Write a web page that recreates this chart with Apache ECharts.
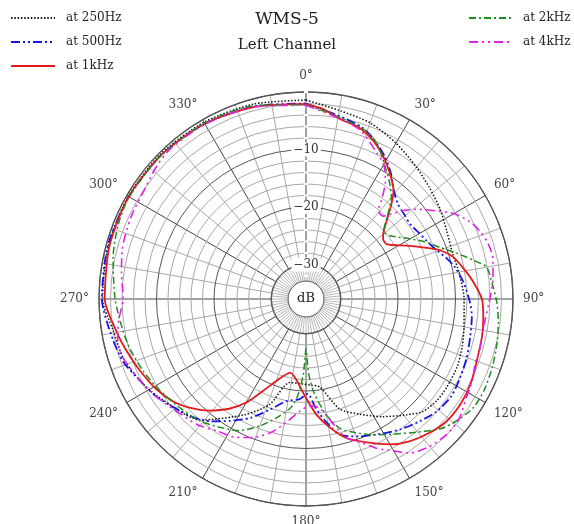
<!DOCTYPE html>
<html><head><meta charset="utf-8">
<script src="https://cdn.jsdelivr.net/npm/echarts/dist/echarts.min.js"></script>
<style>html,body{margin:0;padding:0;background:#fff}#c{width:574px;height:524px}</style>
</head><body><div id="c"></div>
<script>
// ---- data (angle in degrees clockwise from front, level in dB) ----
const names = ['at 250Hz', 'at 500Hz', 'at 1kHz', 'at 2kHz', 'at 4kHz'];
const radiusTickLabels = [-10, -20, -30];

const ang250 = [0,10,20,30,40,48,56,64,73,80,90,100,107,114,122,128,134,139,147,155,163,171,177,182,191,199,208,221,237,244,252,261,270,285,300,315,330,345,360];
const db250  = [-1.4,-2.7,-3.4,-4.7,-6.1,-7.1,-7.9,-8.8,-9.3,-9.0,-8.5,-8.1,-7.6,-7.2,-7.1,-7.2,-7.8,-9.3,-11.6,-13.9,-16.0,-20.5,-21.0,-21.2,-21.2,-16.6,-13.2,-8.1,-5.1,-3.8,-2.6,-2.0,-0.6,-0.4,-0.3,-0.3,-0.5,-0.9,-1.4];

const ang500 = [0,10,18,23,29,34,38,44,50,54,60,68,74,78,84,91,96,103,110,117,124,131,137,144,151,159,166,171,175,179,184,191,198,205,212,218,224,230,237,244,251,258,270,285,300,315,330,345,360];
const db500  = [-2.0,-3.6,-4.6,-5.8,-7.7,-9.6,-11.4,-13.0,-13.5,-13.7,-13.2,-12.1,-10.5,-9.5,-8.45,-7.5,-7.0,-6.7,-6.25,-5.9,-5.6,-6.05,-6.95,-8.0,-9.2,-10.4,-11.7,-14.5,-17.0,-19.5,-18.5,-17.9,-15.8,-13.2,-11.0,-9.0,-7.5,-6.4,-4.9,-3.8,-2.4,-1.7,-0.5,-0.3,-0.4,-0.5,-0.8,-1.3,-2.0];

const ang1k = [0,5,11,17,23,29,34,39,42,45,49,52,56,62,67,70,74,79,84,90,96,102,110,117,124,131,137,144,150,157,164,170,175,180,187,192,200,205,210,215,221,227,232,239,247,254,260,270,285,300,315,330,345,360];
const db1k  = [-2.1,-2.8,-4.2,-4.75,-6.1,-8.0,-9.85,-11.8,-13.8,-15.9,-18.1,-19.0,-19.0,-16.2,-13.2,-11.2,-9.4,-8.1,-6.8,-5.4,-5.0,-4.7,-4.4,-3.8,-3.5,-3.6,-4.3,-5.4,-6.8,-8.9,-10.9,-13.5,-15.9,-18.8,-21.9,-22.9,-20.8,-18.4,-15.2,-12.7,-10.3,-8.3,-6.9,-5.6,-4.5,-3.5,-2.6,-1.0,-0.6,-0.4,-0.5,-0.8,-1.4,-2.1];

const ang2k = [0,10,20,25,30,35,40,44,49,53,59,64,69,73,77,80,85,91,97,103,110,117,123,129,134,140,146,154,160,165,170,175,178,180,182,185,188,194,200,207,214,221,229,238,246,254,260,270,282,292,300,315,330,345,360];
const db2k  = [-2.2,-3.8,-5.0,-6.5,-8.8,-10.8,-12.9,-15.5,-18.1,-17.7,-15.5,-13.2,-11.0,-8.65,-6.1,-4.1,-3.55,-2.8,-2.3,-1.9,-1.5,-1.2,-1.3,-2.3,-3.5,-5.8,-7.7,-9.7,-11.3,-12.6,-15.5,-19.5,-23.0,-27.3,-23.0,-19.0,-16.9,-14.7,-12.5,-10.3,-9.1,-7.9,-7.05,-6.0,-5.05,-4.2,-3.7,-2.8,-1.7,-0.85,-0.5,-0.5,-0.7,-1.2,-2.2];

const ang4k = [0,10,18,25,30,34,37,39.5,43,47,51,56,60,65,69,73,78,84,92,99,106,111,116,122,128,134,140,146,150,155,159,164,173,178,183,190,195,201,207,214,221,229,237,244,252,258,264,270,278,285,295,305,312,318,330,345,360];
const db4k  = [-2.3,-4.0,-5.2,-7.5,-9.0,-11.3,-14.0,-16.2,-16.3,-13.6,-11.2,-8.6,-6.3,-4.4,-3.5,-2.9,-2.75,-3.3,-4.25,-4.75,-4.55,-4.5,-3.8,-3.2,-2.2,-2.05,-2.55,-3.7,-5.5,-7.4,-9.3,-10.9,-16.9,-17.4,-16.5,-13.9,-11.9,-10.2,-9.0,-8.3,-7.1,-6.2,-4.9,-3.8,-2.6,-2.5,-3.3,-4.2,-3.6,-2.9,-2.4,-2.0,-1.2,-0.8,-0.9,-1.4,-2.3];

// ---- build ----
function pairs(a, d) { return a.map((v, i) => [d[i], v]); }
const FONT = 'DejaVu Serif';
const CENTER = [306, 299];
const R = 207;
const RMIN = -36, RMAX = 0, RSTEP = 2;

const ringColors = [];
for (let v = RMIN; v <= RMAX; v += RSTEP) {
  ringColors.push(v <= -32 ? 'rgba(0,0,0,0)' : (v % 10 === 0 ? '#555' : '#a8a8a8'));
}

const styles = [
  { color: '#111111', width: 1.5, type: [1.5, 1.8] },
  { color: '#1515e6', width: 1.8, type: [9, 3, 2, 3, 2, 3] },
  { color: '#e31a1c', width: 1.8, type: 'solid' },
  { color: '#1e8c1e', width: 1.5, type: [7, 3, 2, 3] },
  { color: '#e61ee6', width: 1.6, type: [9, 4, 2, 4, 2, 4] }
];
const datasets = [pairs(ang250, db250), pairs(ang500, db500), pairs(ang1k, db1k), pairs(ang2k, db2k), pairs(ang4k, db4k)];

function legendOf(data, left, pad) {
  return {
    data: data, left: left, orient: 'vertical', top: 7, itemGap: 12, itemWidth: 44, itemHeight: 14,
    itemStyle: { opacity: 0 },
    textStyle: { fontFamily: FONT, fontSize: 12, color: '#222', padding: [0, 0, 0, pad] }
  };
}

const chart = echarts.init(document.getElementById('c'), null, { renderer: 'canvas' });
chart.setOption({
  backgroundColor: '#fff',
  animation: false,
  title: {
    text: 'WMS-5', subtext: 'Left Channel', left: 'center', top: 6, itemGap: 10,
    textStyle: { fontFamily: FONT, fontSize: 17, fontWeight: 'normal', color: '#222' },
    subtextStyle: { fontFamily: FONT, fontSize: 15, color: '#222' }
  },
  legend: [
    legendOf(names.slice(0, 3), 5, 6),
    legendOf(names.slice(3), 463, 5)
  ],
  polar: [
    { center: CENTER, radius: [0, R] },
    { center: CENTER, radius: [18, 35] },
    { center: CENTER, radius: [35, R] }
  ],
  angleAxis: [
    { polarIndex: 0, type: 'value', min: 0, max: 360, interval: 30, startAngle: 90, clockwise: true,
      axisLine: { show: true, lineStyle: { color: '#555', width: 1.3 } },
      axisTick: { show: false }, splitLine: { show: false },
      axisLabel: { margin: 10, fontFamily: FONT, fontSize: 12, color: '#444', formatter: v => v >= 360 ? '' : v + '°' } },
    { polarIndex: 1, type: 'value', min: 0, max: 360, interval: 5, startAngle: 90, clockwise: true,
      axisLine: { show: false }, axisTick: { show: false }, axisLabel: { show: false },
      splitLine: { show: true, lineStyle: { color: '#999', width: 0.7 } } },
    { polarIndex: 2, type: 'value', min: 0, max: 360, interval: 10, startAngle: 90, clockwise: true,
      axisLine: { show: false }, axisTick: { show: false }, axisLabel: { show: false },
      splitLine: { show: true, lineStyle: { color: ['#444', '#a8a8a8', '#a8a8a8'], width: 1 } } }
  ],
  radiusAxis: [
    { polarIndex: 0, type: 'value', min: RMIN, max: RMAX, interval: RSTEP,
      axisLine: { show: false }, axisTick: { show: false },
      splitLine: { show: true, lineStyle: { color: ringColors, width: 1 } },
      axisLabel: { show: true, margin: 0, align: 'center', verticalAlign: 'middle',
        fontFamily: FONT, fontSize: 12, color: '#333', backgroundColor: '#fff', padding: [1, 2],
        formatter: v => radiusTickLabels.indexOf(v) >= 0 ? String(v).replace('-', '\u2212') : '' },
      z: 5 },
    { polarIndex: 1, type: 'value', min: 0, max: 1, interval: 1,
      axisLine: { show: false }, axisTick: { show: false }, axisLabel: { show: false },
      splitLine: { show: true, lineStyle: { color: '#444', width: 1 } } },
    { polarIndex: 2, type: 'value', min: 0, max: 1, interval: 1, show: false,
      axisLine: { show: false }, axisTick: { show: false }, axisLabel: { show: false }, splitLine: { show: false } }
  ],
  graphic: [
    { type: 'text', x: CENTER[0], y: CENTER[1], z: 100,
      style: { text: 'dB', font: '13px "DejaVu Serif"', fill: '#222', align: 'center', verticalAlign: 'middle' } }
  ],
  series: names.map((n, i) => ({
    name: n, type: 'line', coordinateSystem: 'polar', polarIndex: 0,
    data: datasets[i], showSymbol: false, symbol: 'none', smooth: 0.25, z: 10 + i,
    lineStyle: { color: styles[i].color, width: styles[i].width, type: styles[i].type },
    itemStyle: { color: styles[i].color }
  }))
});
</script>
</body></html>
